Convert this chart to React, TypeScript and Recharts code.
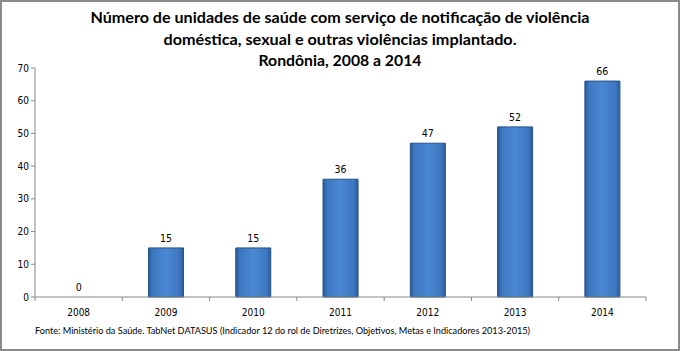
import { ComposedChart, Bar, Line, XAxis, YAxis } from 'recharts';

const years = ['2008', '2009', '2010', '2011', '2012', '2013', '2014'];
const unidades = [0, 15, 15, 36, 47, 52, 66];
const yTicks = [0, 10, 20, 30, 40, 50, 60, 70];
const titleLines = [
  'Número de unidades de saúde com serviço de notificação de violência',
  'doméstica, sexual e outras violências implantado.',
  'Rondônia, 2008 a 2014',
];
const fonte =
  'Fonte: Ministério da Saúde. TabNet DATASUS (Indicador 12  do rol de Diretrizes, Objetivos, Metas e Indicadores 2013-2015)';

const data = years.map((ano, i) => ({ ano, valor: unidades[i] }));

const W = 680;
const H = 351;
const margin = { top: 68, right: 34, left: 0, bottom: 24 };
const xAxisH = 30;
const yAxisW = 35;
const band = (W - margin.left - margin.right - yAxisW) / years.length;
const axisColor = '#888888';
const tickFont = '"DejaVu Sans Condensed", "DejaVu Sans", sans-serif';

function YearTick(props: any) {
  const { x, y, payload, index } = props;
  const last = index === years.length - 1;
  return (
    <g>
      <line x1={x - band / 2} x2={x - band / 2} y1={y - 8} y2={y - 4} stroke={axisColor} />
      {last && <line x1={x + band / 2} x2={x + band / 2} y1={y - 8} y2={y - 4} stroke={axisColor} />}
      <text x={x} y={y + 11} textAnchor="middle" fontSize={10} fontFamily={tickFont} fill="#000">
        {payload.value}
      </text>
    </g>
  );
}

// labels are hung on an invisible line so the zero bar still gets its "0"
function ValueLabel(props: any) {
  const { x, y, value } = props;
  return (
    <text x={x} y={y - 6} textAnchor="middle" fontSize={10.5} fontFamily={tickFont} fill="#000">
      {value}
    </text>
  );
}

export default function App() {
  return (
    <div style={{ position: 'fixed', left: 0, top: 0, width: W, height: H, background: '#fff' }}>
      <ComposedChart width={W} height={H} data={data} margin={margin} barCategoryGap="30%">
        <defs>
          <linearGradient id="barGrad" x1="0" y1="0" x2="1" y2="0">
            <stop offset="0%" stopColor="#2b5b98" />
            <stop offset="12%" stopColor="#3d77c0" />
            <stop offset="50%" stopColor="#4a88d3" />
            <stop offset="88%" stopColor="#3d77c0" />
            <stop offset="100%" stopColor="#2b5b98" />
          </linearGradient>
        </defs>
        <XAxis
          dataKey="ano"
          stroke={axisColor}
          tickLine={false}
          interval={0}
          tick={<YearTick />}
          height={xAxisH}
        />
        <YAxis
          width={yAxisW}
          domain={[0, 70]}
          ticks={yTicks}
          interval={0}
          stroke={axisColor}
          tickSize={4}
          tick={{ fontSize: 10, fontFamily: tickFont, fill: '#000' }}
        />
        <Bar dataKey="valor" fill="url(#barGrad)" stroke="#25508a" strokeWidth={1} isAnimationActive={false} />
        <Line
          dataKey="valor"
          stroke="none"
          dot={false}
          activeDot={false}
          isAnimationActive={false}
          label={<ValueLabel />}
        />
      </ComposedChart>
      <svg width={W} height={H} style={{ position: 'absolute', left: 0, top: 0, pointerEvents: 'none' }}>
        {titleLines.map((t, i) => (
          <text
            key={i}
            x={W / 2}
            y={23 + i * 21.5}
            textAnchor="middle"
            fontFamily="Lato, 'Open Sans', sans-serif"
            fontWeight="bold"
            fontSize={16}
            textLength={[499, 353, 163][i]}
            lengthAdjust="spacingAndGlyphs"
            fill="#000"
          >
            {t}
          </text>
        ))}
        <text
          x={35}
          y={334}
          fontFamily="Lato, 'Open Sans', sans-serif"
          fontSize={9.5}
          textLength={495}
          lengthAdjust="spacingAndGlyphs"
          fill="#000"
        >
          {fonte}
        </text>
        <rect x={1} y={1} width={W - 2} height={H - 2} fill="none" stroke="#8a8a8a" strokeWidth={2} />
      </svg>
    </div>
  );
}
